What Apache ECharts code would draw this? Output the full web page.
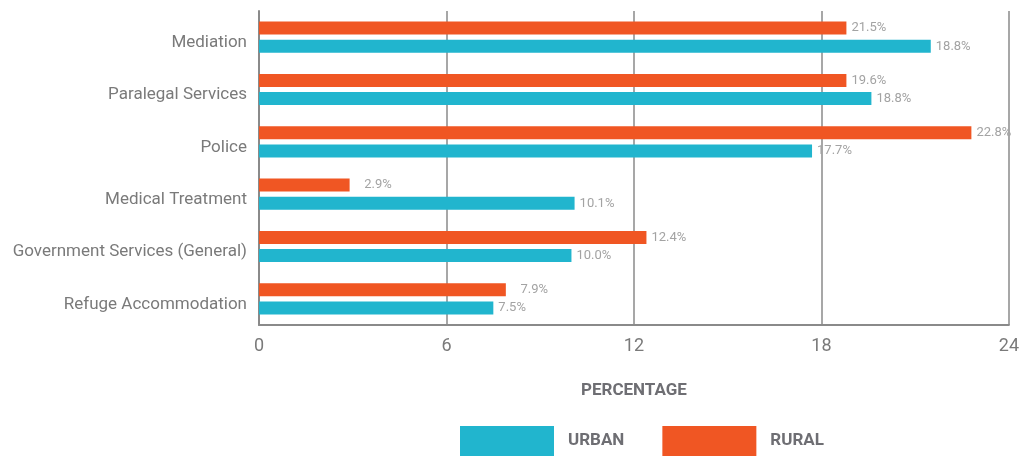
<!DOCTYPE html>
<html>
<head>
<meta charset="utf-8">
<script src="https://cdn.jsdelivr.net/npm/echarts@6/dist/echarts.min.js"></script>
<style>
  html, body { margin: 0; padding: 0; background: #fff; }
  #chart { width: 1022px; height: 457px; }
</style>
</head>
<body>
<div id="chart"></div>
<script>
// categories, top to bottom
var categories = ['Mediation', 'Paralegal Services', 'Police', 'Medical Treatment',
                  'Government Services (General)', 'Refuge Accommodation'];
// bar lengths as drawn
var urbanValues = [21.5, 19.6, 17.7, 10.1, 10.0, 7.5];
var ruralValues = [18.8, 18.8, 22.8, 2.9, 12.4, 7.9];
// value labels as printed next to the bars
var urbanLabels = ['18.8%', '18.8%', '17.7%', '10.1%', '10.0%', '7.5%'];
var ruralLabels = ['21.5%', '19.6%', '22.8%', '   2.9%', '12.4%', '   7.9%'];
var xTicks = [0, 6, 12, 18, 24];

var font = 'Roboto, "DejaVu Sans", sans-serif';

function barLabel(labels) {
	return {
		show: true,
		position: 'right',
		distance: 5,
		color: '#a3a3a3',
		fontSize: 13,
		fontFamily: font,
		formatter: function (p) { return labels[p.dataIndex]; }
	};
}

var option = {
	animation: false,
	grid: { left: 259, right: 13, top: 11, bottom: 132 },
	legend: {
		left: 460,
		top: 426,
		padding: 0,
		itemWidth: 94,
		itemHeight: 30,
		itemGap: 38,
		icon: 'rect',
		textStyle: {
			color: '#6e6e73',
			fontSize: 17,
			fontWeight: 'bold',
			fontFamily: font,
			padding: [0, 0, 0, 9],
			verticalAlign: 'top',
			lineHeight: 6
		},
		data: ['URBAN', 'RURAL']
	},
	xAxis: {
		type: 'value',
		min: xTicks[0],
		max: xTicks[xTicks.length - 1],
		interval: 6,
		name: 'PERCENTAGE',
		nameLocation: 'middle',
		nameGap: 57,
		nameTextStyle: { color: '#6e6e73', fontSize: 17, fontWeight: 'bold', fontFamily: font },
		axisLine: { show: true, lineStyle: { color: '#8a8a8a', width: 2 } },
		axisTick: { show: false },
		axisLabel: { color: '#7a7a7a', fontSize: 18, fontFamily: font, margin: 12 },
		splitLine: { show: true, lineStyle: { color: '#8a8a8a', width: 1.5 } }
	},
	yAxis: {
		type: 'category',
		inverse: true,
		data: categories,
		axisLine: { show: true, lineStyle: { color: '#8a8a8a', width: 2 } },
		axisTick: { show: false },
		axisLabel: {
			color: '#7a7a7a', fontSize: 17, fontFamily: font, margin: 12,
			verticalAlign: 'top', lineHeight: 11
		}
	},
	series: [
		{
			name: 'RURAL',
			type: 'bar',
			barWidth: 13,
			barGap: '40%',
			itemStyle: { color: '#f05623' },
			label: barLabel(ruralLabels),
			data: ruralValues
		},
		{
			name: 'URBAN',
			type: 'bar',
			barWidth: 13,
			barGap: '40%',
			itemStyle: { color: '#21b5ce' },
			label: barLabel(urbanLabels),
			data: urbanValues
		}
	]
};

var myChart = echarts.init(document.getElementById('chart'));
myChart.setOption(option);
</script>
</body>
</html>
